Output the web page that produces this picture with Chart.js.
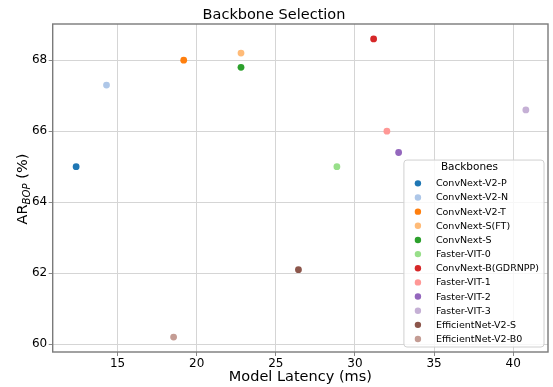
<!DOCTYPE html>
<html><head><meta charset="utf-8">
<script src="https://cdn.jsdelivr.net/npm/chart.js@4.4.0/dist/chart.umd.min.js"></script>
<style>html,body{margin:0;padding:0;background:#fff;} #wrap{width:553px;height:387px;}</style>
</head><body><div id="wrap"><canvas id="c" width="553" height="387"></canvas></div>
<script>
const backbones = ["ConvNext-V2-P","ConvNext-V2-N","ConvNext-V2-T","ConvNext-S(FT)","ConvNext-S","Faster-VIT-0","ConvNext-B(GDRNPP)","Faster-VIT-1","Faster-VIT-2","Faster-VIT-3","EfficientNet-V2-S","EfficientNet-V2-B0"];
const latencyMs = [12.38, 14.3, 19.18, 22.8, 22.8, 28.86, 31.18, 32.02, 32.76, 40.8, 26.43, 18.54];
const arBop = [65.0, 67.3, 68.0, 68.2, 67.8, 65.0, 68.6, 66.0, 65.4, 66.6, 62.1, 60.2];
const colors = ["#1f77b4","#aec7e8","#ff7f0e","#ffbb78","#2ca02c","#98df8a","#d62728","#ff9896","#9467bd","#c5b0d5","#8c564b","#c49c94"];
const xTicks = [15, 20, 25, 30, 35, 40];
const yTicks = [60, 62, 64, 66, 68];
const FONT = "'DejaVu Sans', sans-serif";

const datasets = backbones.map((name, i) => ({
  label: name,
  data: [{x: latencyMs[i], y: arBop[i]}],
  backgroundColor: colors[i],
  borderColor: colors[i],
  borderWidth: 0,
  pointRadius: 3.4,
  pointHoverRadius: 3.4
}));

const decor = {
  id: 'decor',
  afterDraw(chart) {
    const ctx = chart.ctx, ca = chart.chartArea;
    ctx.save();
    // frame
    ctx.strokeStyle = '#7a7a7a';
    ctx.lineWidth = 1.4;
    ctx.strokeRect(ca.left, ca.top, ca.right - ca.left, ca.bottom - ca.top);
    // y title
    ctx.fillStyle = '#000';
    ctx.translate(21.5, (ca.top + ca.bottom) / 2 + 1);
    ctx.rotate(-Math.PI / 2);
    const big = `14.5px ${FONT}`, small = `italic 10.2px ${FONT}`;
    ctx.font = big; const wA = ctx.measureText('AR').width, wP = ctx.measureText(' (%)').width;
    ctx.font = small; const wB = ctx.measureText('BOP').width;
    let x0 = -(wA + wB + wP) / 2;
    ctx.textBaseline = 'alphabetic';
    ctx.textAlign = 'left';
    ctx.font = big; ctx.fillText('AR', x0, 5.3);
    ctx.font = small; ctx.fillText('BOP', x0 + wA, 8.5);
    ctx.font = big; ctx.fillText(' (%)', x0 + wA + wB, 5.3);
    ctx.restore();

    // legend
    ctx.save();
    const items = chart.data.datasets;
    ctx.font = `9.5px ${FONT}`;
    let maxW = 0;
    items.forEach(d => { maxW = Math.max(maxW, ctx.measureText(d.label).width); });
    const rowH = 14.15;
    const boxW = 32 + maxW + 5;
    const boxH = 23.3 + (items.length - 1) * rowH + 8;
    const bx = ca.right - 4 - boxW, by = ca.bottom - 5 - boxH;
    ctx.beginPath();
    ctx.roundRect(bx, by, boxW, boxH, 3);
    ctx.fillStyle = 'rgba(255,255,255,0.8)';
    ctx.fill();
    ctx.strokeStyle = '#d0d0d0';
    ctx.lineWidth = 1;
    ctx.stroke();
    ctx.fillStyle = '#000';
    ctx.textBaseline = 'middle';
    ctx.textAlign = 'center';
    ctx.font = `10.5px ${FONT}`;
    ctx.fillText('Backbones', bx + boxW / 2 - 4.5, by + 7.7);
    ctx.textAlign = 'left';
    ctx.font = `9.5px ${FONT}`;
    items.forEach((d, i) => {
      const cy = by + 23.3 + i * rowH;
      ctx.beginPath();
      ctx.arc(bx + 14, cy, 3.2, 0, Math.PI * 2);
      ctx.fillStyle = d.backgroundColor;
      ctx.fill();
      ctx.fillStyle = '#000';
      ctx.fillText(d.label, bx + 32, cy + 0.5);
    });
    ctx.restore();
  }
};

new Chart(document.getElementById('c'), {
  type: 'scatter',
  data: { datasets },
  options: {
    responsive: false,
    devicePixelRatio: 1,
    animation: false,
    layout: { padding: { left: 0, right: 5, top: 0, bottom: 0 } },
    plugins: {
      legend: { display: false },
      tooltip: { enabled: false },
      title: {
        display: true, text: 'Backbone Selection', color: '#000',
        font: { family: FONT, size: 14.5, weight: 'normal', lineHeight: 1.2 },
        padding: { top: 6.4, bottom: 0.2 }
      }
    },
    scales: {
      x: {
        type: 'linear', min: 10.9, max: 42.2,
        afterBuildTicks: s => { s.ticks = xTicks.map(v => ({ value: v })); },
        afterFit: s => { s.height = 35; },
        ticks: { color: '#000', font: { family: FONT, size: 12 }, padding: 1, maxRotation: 0 },
        grid: { color: '#d5d5d5', lineWidth: 1, tickColor: '#888', tickLength: 4 },
        border: { display: false },
        title: { display: true, text: 'Model Latency (ms)', color: '#000',
          font: { family: FONT, size: 14.5, lineHeight: 1.2 }, padding: { top: 0, bottom: 1 } }
      },
      y: {
        type: 'linear', min: 59.78, max: 69.02,
        afterBuildTicks: s => { s.ticks = yTicks.map(v => ({ value: v })); },
        afterFit: s => { s.width = 52.7; },
        ticks: { color: '#000', font: { family: FONT, size: 12 }, padding: 1.5 },
        grid: { color: '#d5d5d5', lineWidth: 1, tickColor: '#888', tickLength: 4 },
        border: { display: false },
        title: { display: false }
      }
    }
  },
  plugins: [decor]
});
</script>
</body></html>
